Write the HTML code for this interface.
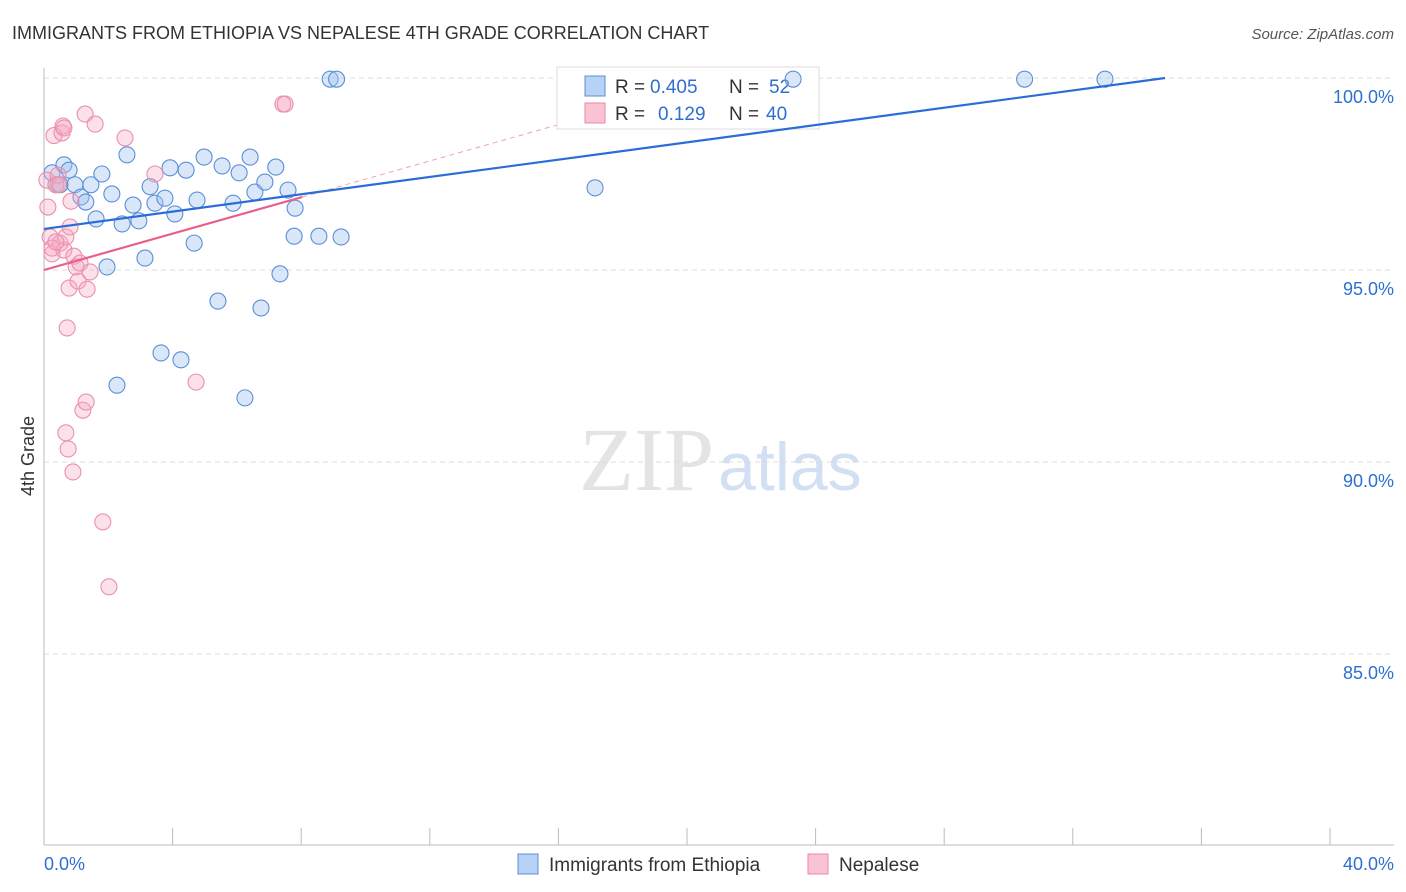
<!DOCTYPE html>
<html><head><meta charset="utf-8"><style>
body{margin:0;background:#fff;font-family:"Liberation Sans",sans-serif;}
svg{display:block}
</style></head><body>
<svg id="chart" width="1406" height="892">
<text x="12" y="39" font-size="18" fill="#333">IMMIGRANTS FROM ETHIOPIA VS NEPALESE 4TH GRADE CORRELATION CHART</text>
<text x="1394" y="39" font-size="15" fill="#555" font-style="italic" text-anchor="end">Source: ZipAtlas.com</text>
<text x="34" y="456" font-size="18" fill="#333" transform="rotate(-90 34 456)" text-anchor="middle">4th Grade</text>
<text x="714" y="490" font-size="90" fill="#e4e4e4" text-anchor="end" font-family="Liberation Serif,serif">ZIP</text>
<text x="718" y="490" font-size="68" fill="#d3e0f3">atlas</text>
<g id="grid"></g><g id="axes"></g><g id="lines"></g>
<g>
<rect x="557" y="67" width="262" height="62" fill="#fff" stroke="#ddd"/>
<rect x="585" y="76" width="20" height="20" fill="#b8d2f5" stroke="#5b8fd8"/>
<rect x="585" y="103" width="20" height="20" fill="#f9c3d3" stroke="#e88aa6"/>
<text x="615" y="93" font-size="19" fill="#333">R =</text><text x="650" y="93" font-size="19" fill="#2f6fd0">0.405</text>
<text x="729" y="93" font-size="19" fill="#333">N =</text><text x="769" y="93" font-size="19" fill="#2f6fd0">52</text>
<text x="615" y="120" font-size="19" fill="#333">R =</text><text x="658" y="120" font-size="19" fill="#2f6fd0">0.129</text>
<text x="729" y="120" font-size="19" fill="#333">N =</text><text x="766" y="120" font-size="19" fill="#2f6fd0">40</text>
</g>
<g id="pts"></g>
<g>
<rect x="518" y="854" width="20" height="20" fill="#b8d2f5" stroke="#5b8fd8"/>
<text x="549" y="871" font-size="19" fill="#333">Immigrants from Ethiopia</text>
<rect x="808" y="854" width="20" height="20" fill="#f9c3d3" stroke="#e88aa6"/>
<text x="839" y="871" font-size="19" fill="#333">Nepalese</text>
</g>
<text x="44" y="870" font-size="18" fill="#2f6fd0">0.0%</text>
<text x="1394" y="870" font-size="18" fill="#2f6fd0" text-anchor="end">40.0%</text>
</svg>
<script>
const yTicks=[100,95,90,85];
const xTickVals=[0,4,8,12,16,20,24,28,32,36,40];
const blueX=[8.9,9.1,23.3,30.5,33.0,0.25,0.37,0.5,0.62,0.78,0.96,1.15,1.3,1.46,1.62,1.8,1.96,2.11,2.27,2.43,2.58,2.77,2.95,3.14,3.3,3.45,3.64,3.76,3.92,4.07,4.26,4.42,4.67,4.76,4.98,5.41,5.54,5.88,6.07,6.25,6.41,6.56,6.75,6.87,7.21,7.34,7.59,7.78,7.81,8.55,9.24,17.14];
const blueY=[99.97,99.97,99.97,99.97,99.97,97.53,97.22,97.22,97.74,97.6,97.22,96.9,96.77,97.22,96.33,97.5,95.08,96.98,92.0,96.2,98.0,96.69,96.28,95.31,97.17,96.74,92.84,96.87,97.66,96.46,92.66,97.6,95.70,96.82,97.94,94.19,97.71,96.74,97.53,91.67,97.94,97.03,94.01,97.29,97.68,94.9,97.08,95.88,96.61,95.88,95.86,97.14];
const pinkX=[0.09,0.12,0.19,0.25,0.31,0.37,0.44,0.5,0.56,0.59,0.62,0.68,0.72,0.68,0.75,0.78,0.81,0.84,0.9,0.93,1.0,1.06,1.12,1.21,1.28,1.31,1.34,1.43,1.59,1.83,2.02,2.52,3.45,4.73,7.43,7.5,0.25,0.37,0.62,0.44];
const pinkY=[97.34,96.64,95.86,95.42,98.5,97.22,97.47,95.7,98.57,98.75,95.52,95.86,93.49,90.76,90.34,94.53,96.12,96.79,89.74,95.36,95.08,94.71,95.18,91.35,99.06,91.56,94.5,94.95,98.8,88.44,86.75,98.44,97.5,92.08,99.32,99.32,95.57,95.73,98.7,97.22];
const blueLine=[[0,96.07],[34.87,100]];
const pinkLine=[[0,95.0],[8.03,96.9]];
const X=v=>44+v/40*1286, Y=v=>78+(100-v)*38.4;
const NS="http://www.w3.org/2000/svg";
function mk(p,t,a){const e=document.createElementNS(NS,t);for(const k in a)e.setAttribute(k,a[k]);document.getElementById(p).appendChild(e);return e;}
yTicks.forEach(t=>{
 const l=mk('grid','line',{x1:44,x2:1394,y1:Y(t),y2:Y(t),stroke:'#ddd','stroke-dasharray':'5,4'});
 
 
 const tx=mk('grid','text',{x:1394,y:Y(t)+25,'font-size':18,fill:'#2f6fd0','text-anchor':'end'});
 tx.textContent=t.toFixed(1)+'%';
 
 
});
const ax=mk('axes','line',{x1:44,x2:44,y1:68,y2:845,stroke:'#bbb'});


const bx=mk('axes','line',{x1:44,x2:1394,y1:845,y2:845,stroke:'#bbb'});


xTickVals.forEach(t=>{
 const l=mk('axes','line',{x1:X(t),x2:X(t),y1:828,y2:845,stroke:'#bbb'});
 
 
});
const slope=(pinkLine[1][1]-pinkLine[0][1])/(pinkLine[1][0]-pinkLine[0][0]);
const xEnd=(100-pinkLine[0][1])/slope;
const pd=mk('lines','line',{x1:X(pinkLine[1][0]),y1:Y(pinkLine[1][1]),x2:X(xEnd),y2:Y(100),stroke:'#f0a0b8','stroke-dasharray':'5,4','stroke-width':1});


blueX.forEach((v,i)=>{
 const c=mk('pts','circle',{cx:X(v),cy:Y(blueY[i]),r:8,fill:'rgba(160,195,240,0.4)',stroke:'#5b8fd8','stroke-width':1.1});
 
 
});
pinkX.forEach((v,i)=>{
 const c=mk('pts','circle',{cx:X(v),cy:Y(pinkY[i]),r:8,fill:'rgba(246,170,195,0.35)',stroke:'#ea90ab','stroke-width':1.1});
 
 
});
const bl=mk('pts','line',{x1:X(blueLine[0][0]),y1:Y(blueLine[0][1]),x2:X(blueLine[1][0]),y2:Y(blueLine[1][1]),stroke:'#2a6dd6','stroke-width':2.2});


const pl=mk('pts','line',{x1:X(pinkLine[0][0]),y1:Y(pinkLine[0][1]),x2:X(pinkLine[1][0]),y2:Y(pinkLine[1][1]),stroke:'#e8608a','stroke-width':2.2});


</script>
</body></html>
